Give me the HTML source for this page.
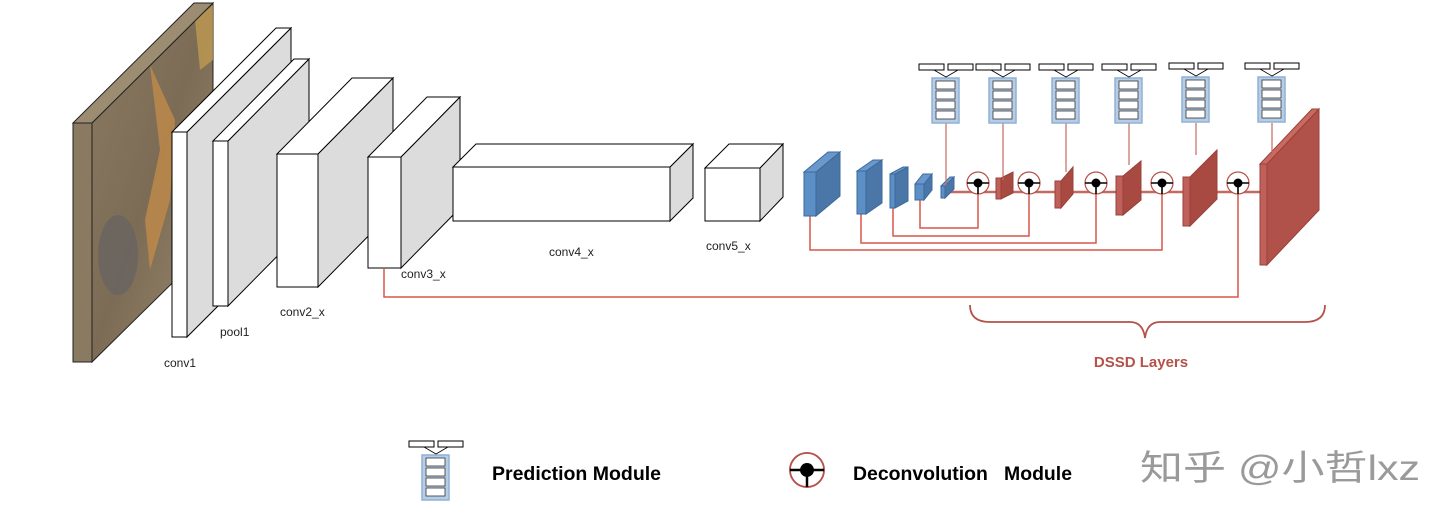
<!DOCTYPE html>
<html><head><meta charset="utf-8"><style>
html,body{margin:0;padding:0;background:#fff;}
svg{display:block}
text{font-family:"Liberation Sans","Noto Sans CJK SC",sans-serif;}
</style></head><body>
<svg width="1453" height="522" viewBox="0 0 1453 522" xmlns="http://www.w3.org/2000/svg">
<defs>
<linearGradient id="img" x1="0" y1="0" x2="1" y2="1">
<stop offset="0" stop-color="#8a7a62"/><stop offset="0.5" stop-color="#7c6c55"/><stop offset="1" stop-color="#9a8a70"/>
</linearGradient>
<g id="pm">
<rect x="-14" y="0" width="27" height="45" fill="#b7cde6" stroke="#8fb0d6" stroke-width="1.5"/>
<rect x="-10" y="3" width="19" height="8" fill="#fff" stroke="#333" stroke-width="0.8"/>
<rect x="-10" y="13" width="19" height="8" fill="#fff" stroke="#333" stroke-width="0.8"/>
<rect x="-10" y="23" width="19" height="8" fill="#fff" stroke="#333" stroke-width="0.8"/>
<rect x="-10" y="33" width="19" height="8" fill="#fff" stroke="#333" stroke-width="0.8"/>
<path d="M-12,-8 L0,-1 L12,-8" fill="none" stroke="#000" stroke-width="0.8"/>
<rect x="-27" y="-14" width="25" height="6" fill="#fff" stroke="#000" stroke-width="1"/>
<rect x="2" y="-14" width="25" height="6" fill="#fff" stroke="#000" stroke-width="1"/>
</g>
<g id="dc">
<circle r="11" fill="#fff" stroke="#b5524a" stroke-width="1.2"/>
<path d="M-11,0 H11 M0,0 V11" stroke="#000" stroke-width="1.6"/>
<circle r="4.5" fill="#000"/>
</g>
</defs>

<!-- image slab -->
<polygon points="92,123 213,3 213,243 92,362" fill="url(#img)" stroke="#222"/>
<path d="M150,65 L175,120 L170,200 L150,270 L145,220 L160,150Z" fill="#c08a4a" opacity="0.8"/>
<ellipse cx="118" cy="255" rx="20" ry="40" fill="#6a6560" opacity="0.9"/>
<path d="M195,20 L213,5 L213,60 L200,70Z" fill="#c8a050" opacity="0.7"/>
<polygon points="73,123 92,123 92,362 73,362" fill="#8a7a62" stroke="#222"/>
<polygon points="73,123 194,3 213,3 92,123" fill="#9c8d72" stroke="#222"/>

<!-- grey blocks -->
<g stroke="#000" stroke-width="1">
<polygon points="187,132 291,28 291,233 187,337" fill="#dcdcdc"/>
<polygon points="172,132 276,28 291,28 187,132" fill="#fff"/>
<rect x="172" y="132" width="15" height="205" fill="#fff"/>

<polygon points="228,141 309,59 309,224 228,306" fill="#dcdcdc"/>
<polygon points="213,141 294,59 309,59 228,141" fill="#fff"/>
<rect x="213" y="141" width="15" height="165" fill="#fff"/>

<polygon points="318,154 393,78 393,211 318,287" fill="#dcdcdc"/>
<polygon points="277,154 352,78 393,78 318,154" fill="#fff"/>
<rect x="277" y="154" width="41" height="133" fill="#fff"/>

<polygon points="401,157 460,97 460,208 401,268" fill="#dcdcdc"/>
<polygon points="368,157 427,97 460,97 401,157" fill="#fff"/>
<rect x="368" y="157" width="33" height="111" fill="#fff"/>

<polygon points="670,167 693,144 693,198 670,221" fill="#dcdcdc"/>
<polygon points="453,167 476,144 693,144 670,167" fill="#fff"/>
<rect x="453" y="167" width="217" height="54" fill="#fff"/>

<polygon points="760,168 783,144 783,197 760,221" fill="#dcdcdc"/>
<polygon points="705,168 729,144 783,144 760,168" fill="#fff"/>
<rect x="705" y="168" width="55" height="53" fill="#fff"/>
</g>

<g font-size="12" fill="#222">
<text x="164" y="367">conv1</text>
<text x="220" y="336">pool1</text>
<text x="280" y="316">conv2_x</text>
<text x="401" y="278">conv3_x</text>
<text x="549" y="256">conv4_x</text>
<text x="706" y="250">conv5_x</text>
</g>

<!-- red connectors -->
<g stroke="#d9574a" stroke-width="1.5" fill="none">
<path d="M384,268 V297 H1238 V183"/>
<path d="M920,200 V228 H978 V193"/>
<path d="M893,208 V236 H1029 V193"/>
<path d="M861,214 V243 H1096 V193"/>
<path d="M810,216 V250 H1162 V193"/>
<path d="M945,192 H1262" stroke="#c46a62" stroke-width="2.5"/>
<path d="M970,305 Q970,322 990,322 H1130 Q1143,322 1145,338 Q1147,322 1160,322 H1305 Q1325,322 1325,305" stroke="#b5524a" stroke-width="1.8"/>
</g>

<!-- blue boxes -->
<g stroke="#3c6a9a" stroke-width="1">
<polygon points="816,172 840,152 840,196 816,216" fill="#4a76a8"/><polygon points="804,172 828,152 840,152 816,172" fill="#6a98cc"/><rect x="804" y="172" width="12" height="44" fill="#5d8fc7"/>
<polygon points="866,171 882,160 882,203 866,214" fill="#4a76a8"/><polygon points="857,171 873,160 882,160 866,171" fill="#6a98cc"/><rect x="857" y="171" width="9" height="43" fill="#5d8fc7"/>
<polygon points="895,174 908,167 908,201 895,208" fill="#4a76a8"/><polygon points="890,174 903,167 908,167 895,174" fill="#6a98cc"/><rect x="890" y="174" width="5" height="34" fill="#5d8fc7"/>
<polygon points="924,184 932,174 932,190 924,200" fill="#4a76a8"/><polygon points="915,184 923,174 932,174 924,184" fill="#6a98cc"/><rect x="915" y="184" width="9" height="16" fill="#5d8fc7"/>
<polygon points="945,186 954,177 954,189 945,198" fill="#4a76a8"/><polygon points="941,186 950,177 954,177 945,186" fill="#6a98cc"/><rect x="941" y="186" width="4" height="12" fill="#5d8fc7"/>
</g>
<!-- red boxes -->
<g stroke="#9a4038" stroke-width="1">
<polygon points="1001,178 1013,172 1013,193 1001,199" fill="#a84a42"/><rect x="996" y="178" width="5" height="21" fill="#c0605a"/>
<polygon points="1061,181 1073,167 1073,194 1061,208" fill="#a84a42"/><rect x="1055" y="181" width="6" height="27" fill="#c0605a"/>
<polygon points="1123,176 1141,161 1141,200 1123,215" fill="#a84a42"/><rect x="1116" y="176" width="7" height="39" fill="#c0605a"/>
<polygon points="1190,177 1217,150 1217,199 1190,226" fill="#a84a42"/><rect x="1183" y="177" width="7" height="49" fill="#c0605a"/>
<polygon points="1267,164 1319,109 1319,210 1267,265" fill="#b0524a"/><polygon points="1260,164 1312,109 1319,109 1267,164" fill="#c86a62"/><rect x="1260" y="164" width="7" height="101" fill="#c0605a"/>
</g>

<!-- decon modules -->
<use href="#dc" x="978" y="183"/>
<use href="#dc" x="1029" y="183"/>
<use href="#dc" x="1096" y="183"/>
<use href="#dc" x="1162" y="183"/>
<use href="#dc" x="1238" y="183"/>

<!-- prediction modules with vertical lines -->
<g stroke="#c46a62" stroke-width="1.2">
<path d="M946,123 V186 M1003,123 V180 M1066,123 V172 M1129,123 V165 M1196,123 V155 M1272,123 V152"/>
</g>
<use href="#pm" x="946" y="78"/>
<use href="#pm" x="1003" y="78"/>
<use href="#pm" x="1066" y="78"/>
<use href="#pm" x="1129" y="78"/>
<use href="#pm" x="1196" y="77"/>
<use href="#pm" x="1272" y="77"/>

<text x="1141" y="367" font-size="15" font-weight="bold" fill="#b5524a" text-anchor="middle">DSSD Layers</text>

<!-- legend -->
<use href="#pm" x="436" y="455"/>
<text x="492" y="480" font-size="19" font-weight="bold" fill="#000" textLength="169" lengthAdjust="spacingAndGlyphs">Prediction Module</text>
<g transform="translate(807,470) scale(1.55)"><use href="#dc"/></g>
<text x="853" y="480" font-size="19" font-weight="bold" fill="#000" xml:space="preserve" textLength="219" lengthAdjust="spacingAndGlyphs">Deconvolution   Module</text>
<text x="1140" y="480" font-size="35" fill="#9a9a9a" textLength="280" lengthAdjust="spacingAndGlyphs">知乎 @小哲lxz</text>
</svg>
</body></html>
